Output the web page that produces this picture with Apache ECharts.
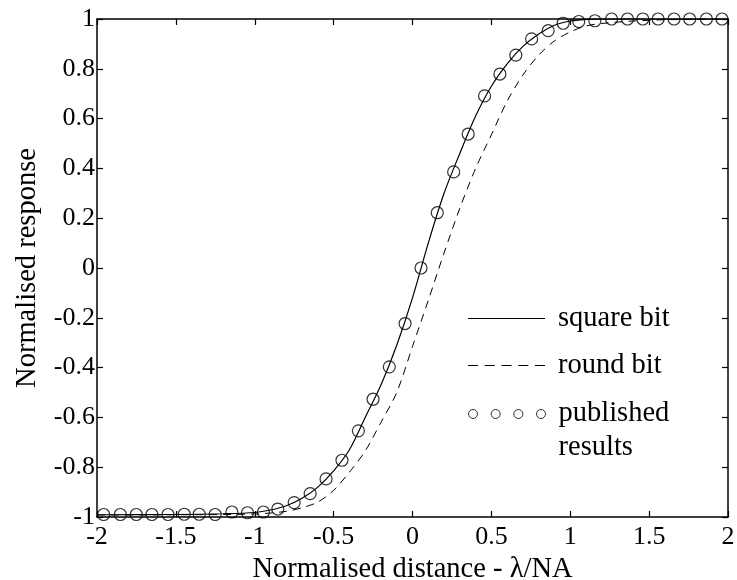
<!DOCTYPE html>
<html>
<head>
<meta charset="utf-8">
<script src="https://cdn.jsdelivr.net/npm/echarts@6/dist/echarts.min.js"></script>
<style>
html,body{margin:0;padding:0;background:#fff;}
#chart{width:737px;height:580px;}
</style>
</head>
<body>
<div id="chart"></div>
<script>
// ---- data ----
var xTicks = [-2, -1.5, -1, -0.5, 0, 0.5, 1, 1.5, 2];
var yTicks = [-1, -0.8, -0.6, -0.4, -0.2, 0, 0.2, 0.4, 0.6, 0.8, 1];

var squareX = [-2, -1.5, -1.2, -1.0, -0.9, -0.8, -0.7, -0.6, -0.5, -0.4, -0.3, -0.2, -0.1, 0, 0.1, 0.2, 0.3, 0.4, 0.5, 0.6, 0.7, 0.8, 0.9, 1.0, 1.1, 1.2, 1.5, 2];
var squareY = [-0.991, -0.990, -0.987, -0.982, -0.972, -0.955, -0.925, -0.88, -0.815, -0.73, -0.60, -0.47, -0.31, -0.12, 0.10, 0.30, 0.46, 0.61, 0.73, 0.82, 0.89, 0.94, 0.975, 0.992, 0.998, 1.0, 1.0, 1.0];

var roundX = [-2, -1.5, -1.2, -1.0, -0.9, -0.8, -0.7, -0.6, -0.5, -0.4, -0.3, -0.2, -0.1, 0, 0.1, 0.2, 0.3, 0.4, 0.5, 0.6, 0.7, 0.8, 0.9, 1.0, 1.1, 1.2, 1.4, 1.6, 2];
var roundY = [-0.992, -0.991, -0.99, -0.988, -0.984, -0.977, -0.963, -0.94, -0.893, -0.82, -0.735, -0.62, -0.50, -0.315, -0.13, 0.06, 0.24, 0.40, 0.535, 0.67, 0.775, 0.855, 0.912, 0.948, 0.972, 0.982, 0.992, 0.997, 1.0];

var pubX = [-1.958, -1.852, -1.751, -1.652, -1.550, -1.447, -1.352, -1.251, -1.145, -1.046, -0.945, -0.854, -0.750, -0.649, -0.548, -0.447, -0.343, -0.250, -0.147, -0.047, 0.054, 0.157, 0.261, 0.353, 0.457, 0.554, 0.655, 0.755, 0.860, 0.955, 1.054, 1.156, 1.262, 1.363, 1.460, 1.557, 1.658, 1.757, 1.863, 1.962];
var pubY = [-0.99, -0.99, -0.99, -0.99, -0.99, -0.989, -0.989, -0.99, -0.98, -0.983, -0.98, -0.968, -0.942, -0.906, -0.847, -0.772, -0.654, -0.527, -0.397, -0.223, 0.0, 0.222, 0.386, 0.538, 0.691, 0.779, 0.855, 0.920, 0.953, 0.983, 0.990, 0.993, 1.0, 1.0, 1.0, 1.0, 1.0, 1.0, 1.0, 1.0];

var seriesNames = ['square bit', 'round bit', 'published results'];
var xName = 'Normalised distance - \u03bb/NA';
var yName = 'Normalised response';

// ---- chart ----
function zip(a, b) { return a.map(function (v, i) { return [v, b[i]]; }); }

var FONT = 'Liberation Serif';
var FS = 26;     // tick labels
var FSN = 28.5;  // axis names / legend
var axisLineStyle = { color: '#000', width: 1.5 };

function baseAxis(extra) {
  var o = {
    type: 'value',
    axisLine: { show: true, onZero: false, lineStyle: axisLineStyle },
    axisTick: { show: true, inside: true, length: 6, lineStyle: { color: '#000', width: 1.2 } },
    splitLine: { show: false },
    axisLabel: { show: false }
  };
  for (var k in extra) o[k] = extra[k];
  return o;
}

var xMin = xTicks[0], xMax = xTicks[xTicks.length - 1], xInt = xTicks[1] - xTicks[0];
var yMin = yTicks[0], yMax = yTicks[yTicks.length - 1], yInt = +(yTicks[1] - yTicks[0]).toFixed(3);

var solidIcon = 'path://M0 0H77V1H0Z';
var dashIcon = 'path://M0 0h10v1h-10zM16.75 0h10v1h-10zM33.5 0h10v1h-10zM50.25 0h10v1h-10zM67 0h10v1h-10z';
var circlesIcon = 'path://M0 4.5a4.5 4.5 0 1 0 9 0a4.5 4.5 0 1 0 -9 0' +
  'M22.67 4.5a4.5 4.5 0 1 0 9 0a4.5 4.5 0 1 0 -9 0' +
  'M45.33 4.5a4.5 4.5 0 1 0 9 0a4.5 4.5 0 1 0 -9 0' +
  'M68 4.5a4.5 4.5 0 1 0 9 0a4.5 4.5 0 1 0 -9 0';

var legendText = { color: '#000', fontFamily: FONT, fontSize: FSN, padding: [0, 0, 0, 8] };

var chart = echarts.init(document.getElementById('chart'), null, { renderer: 'canvas' });
chart.setOption({
  animation: false,
  backgroundColor: '#fff',
  grid: { left: 97, right: 9, top: 19, bottom: 63, containLabel: false, outerBoundsMode: 'none' },
  xAxis: [
    baseAxis({
      min: xMin, max: xMax, interval: xInt, position: 'bottom',
      axisLabel: { show: true, color: '#000', fontFamily: FONT, fontSize: FS, margin: 7 },
      name: xName, nameLocation: 'middle', nameGap: 37,
      nameTextStyle: { color: '#000', fontFamily: FONT, fontSize: FSN }
    }),
    baseAxis({ min: xMin, max: xMax, interval: xInt, position: 'top' })
  ],
  yAxis: [
    baseAxis({
      min: yMin, max: yMax, interval: yInt, position: 'left',
      axisLabel: { show: true, color: '#000', fontFamily: FONT, fontSize: FS, margin: 2 },
      name: yName, nameLocation: 'middle', nameGap: 55,
      nameTextStyle: { color: '#000', fontFamily: FONT, fontSize: FSN }
    }),
    baseAxis({ min: yMin, max: yMax, interval: yInt, position: 'right' })
  ],
  legend: [
    {
      left: 468, top: 304, padding: 0, selectedMode: false,
      itemWidth: 77, itemHeight: 1.2, textStyle: legendText,
      data: [{ name: seriesNames[0], icon: solidIcon,
               itemStyle: { color: '#000', borderWidth: 0 } }]
    },
    {
      left: 468, top: 351, padding: 0, selectedMode: false,
      itemWidth: 77, itemHeight: 1.2, textStyle: legendText,
      data: [{ name: seriesNames[1], icon: dashIcon,
               itemStyle: { color: '#000', borderWidth: 0 } }]
    },
    {
      left: 468, top: 363, padding: 0, selectedMode: false,
      itemWidth: 77, itemHeight: 9,
      textStyle: { color: '#000', fontFamily: FONT, fontSize: FSN, lineHeight: 34, padding: [0, 0, 0, 8] },
      formatter: function () { return '\npublished\nresults'; },
      data: [{ name: seriesNames[2], icon: circlesIcon,
               itemStyle: { color: 'rgba(0,0,0,0)', borderColor: '#000', borderWidth: 1 } }]
    }
  ],
  series: [
    {
      name: seriesNames[0], type: 'line', data: zip(squareX, squareY),
      symbol: 'none', smooth: 0.3,
      itemStyle: { color: '#000' },
      lineStyle: { color: '#000', width: 1.2, type: 'solid' }, z: 3
    },
    {
      name: seriesNames[1], type: 'line', data: zip(roundX, roundY),
      symbol: 'none', smooth: 0.3,
      itemStyle: { color: '#000' },
      lineStyle: { color: '#000', width: 1, type: [8, 6] }, z: 3
    },
    {
      name: seriesNames[2], type: 'scatter', data: zip(pubX, pubY),
      symbol: 'circle', symbolSize: 12, clip: false,
      itemStyle: { color: 'rgba(0,0,0,0)', borderColor: '#000', borderWidth: 1.2 }, z: 4
    }
  ]
});
</script>
</body>
</html>
